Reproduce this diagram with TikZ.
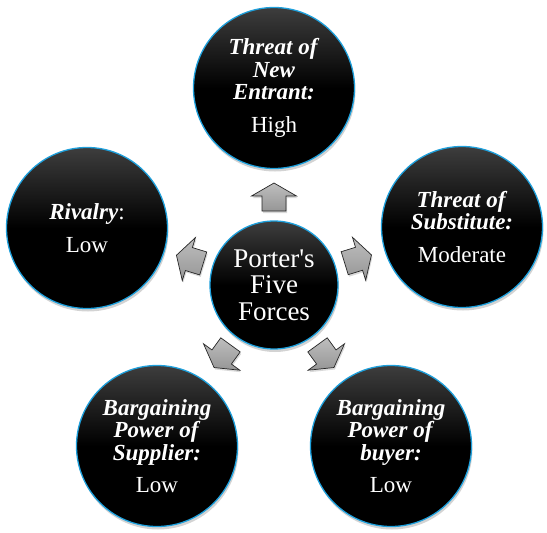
\documentclass[tikz,border=0pt]{standalone}
\usepackage{fontspec}
\setmainfont{Liberation Serif}
\usetikzlibrary{calc,shadows}
\definecolor{rimblue}{RGB}{30,160,220}
\definecolor{arrtop}{RGB}{190,190,190}
\definecolor{arrbot}{RGB}{150,150,150}
\newcommand{\ttl}[1]{\textbf{\textit{#1}}}
\tikzset{
  x=1pt, y=-1pt,
  forcebase/.style={circle, draw=rimblue, line width=1.3pt,
    top color=black!76, bottom color=black, middle color=black,
    text=white, align=center, inner sep=0pt,
    drop shadow={shadow xshift=1pt, shadow yshift=-3pt, opacity=0.35}},
  force/.style={forcebase, minimum size=161pt, font=\fontsize{23}{22.5}\selectfont},
  hub/.style={forcebase, minimum size=128pt, font=\fontsize{27}{26.5}\selectfont},
  blockarrow/.pic={
    \draw[black!85, line width=0.7pt, top color=arrtop, bottom color=arrbot,
      drop shadow={shadow xshift=1pt, shadow yshift=-2pt, opacity=0.3}]
      (-14,-12) -- (1,-12) -- (1,-22.5) -- (14,0) -- (1,22.5) -- (1,12) -- (-14,12) -- cycle;
  }
}
\begin{document}
\begin{tikzpicture}
\useasboundingbox (0,0) rectangle (547,533);
\node[hub] (c) at (274,285) {Porter\textquotesingle s\\Five\\Forces};
\node[force] (t) at (274,88) {\ttl{Threat of}\\\ttl{New}\\\ttl{Entrant:}\\[10pt]High};
\node[force] (r) at (462,227) {\ttl{Threat of}\\\ttl{Substitute:}\\[10pt]Moderate};
\node[force] (l) at (87,228) {\ttl{Rivalry}:\\[10pt]Low};
\node[force] (bl) at (157,446) {\ttl{Bargaining}\\\ttl{Power of}\\\ttl{Supplier:}\\[10pt]Low};
\node[force] (br) at (391,446) {\ttl{Bargaining}\\\ttl{Power of}\\\ttl{buyer:}\\[10pt]Low};
\coordinate (at) at ($(c)!88pt!(t)$);
\coordinate (ar) at ($(c)!88pt!(r)$);
\coordinate (al) at ($(c)!88pt!(l)$);
\coordinate (abl) at ($(c)!88pt!(bl)$);
\coordinate (abr) at ($(c)!88pt!(br)$);
\pic[rotate=90] at (at) {blockarrow};
\pic[rotate=17.1] at (ar) {blockarrow};
\pic[rotate=163] at (al) {blockarrow};
\pic[rotate=234] at (abl) {blockarrow};
\pic[rotate=306] at (abr) {blockarrow};
\end{tikzpicture}
\end{document}
